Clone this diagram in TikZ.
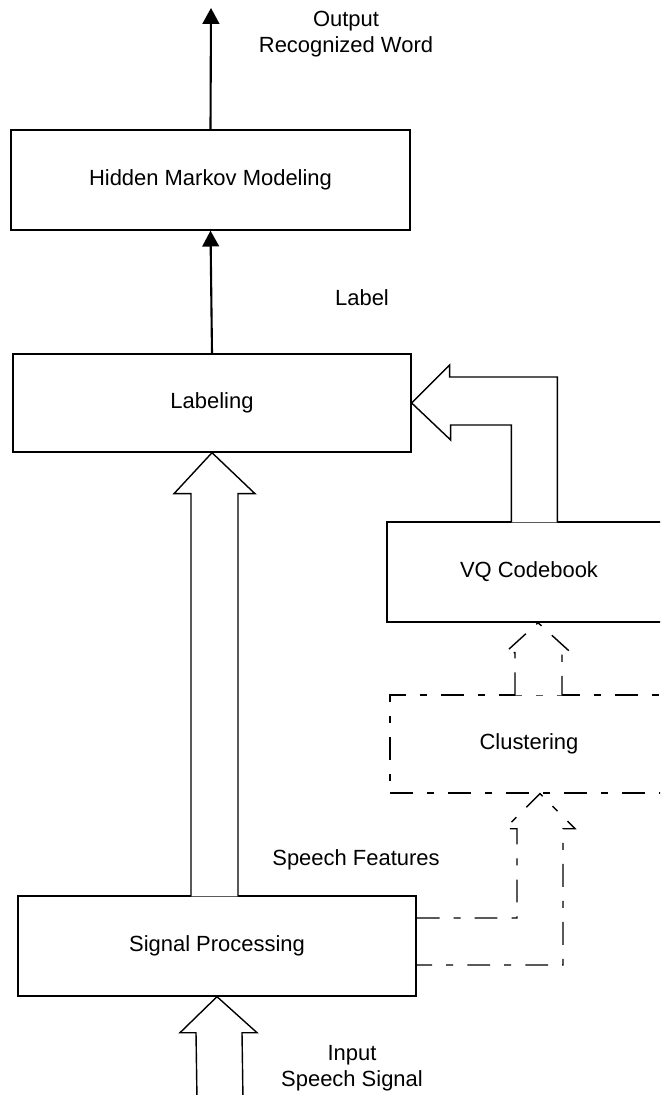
\documentclass[tikz,border=0pt]{standalone}
\usepackage{fontspec}
\setmainfont{Liberation Sans}
\usetikzlibrary{arrows.meta,calc}

\begin{document}
\begin{tikzpicture}[
        x=0.02cm, y=-0.02cm,
        every node/.style={font=\fontsize{12.5}{15}\selectfont},
        box/.style={draw, rectangle, line width=0.8pt, inner sep=0pt, minimum height=2cm},
        dashbox/.style={box, dash pattern=on 13pt off 8pt on 4pt off 8pt},
        hollow/.style={draw, fill=white, line width=0.8pt, line join=miter},
        dashhollow/.style={hollow, dash pattern=on 13pt off 8pt on 4pt off 8pt},
        flow/.style={line width=1.2pt, -{Triangle[length=9pt, width=9.5pt]}}
    ]
        \useasboundingbox (0,0) rectangle (660,1095);
        \clip (0,0) rectangle (660,1095);

        % blocks
        \node[box, minimum width=7.98cm] (hmm) at (210.5,180) {Hidden Markov Modeling};
        \node[box, minimum width=7.96cm, minimum height=1.96cm] (lab) at (212,403) {Labeling};
        \node[box, minimum width=5.68cm] (vq) at (529,572) {VQ Codebook};
        \node[dashbox, minimum width=5.56cm, minimum height=1.96cm] (clu) at (529,744) {Clustering};
        \node[box, minimum width=7.96cm] (sp) at (217,946) {Signal Processing};

        % texts
        \node[align=center] (outtxt) at (346,34) {Output\\Recognized Word};
        \node (labtxt) at (362,298) {Label};
        \node (sftxt) at (356,860) {Speech Features};
        \node[align=center] (intxt) at (352,1068) {Input\\Speech Signal};

        % free ends
        \coordinate (out) at (211,8);
        \coordinate (insig) at (218,1100);
        \coordinate (vqin) at ($(vq.south)+(9,0)$);
        \coordinate (cluin) at ($(clu.south)+(11,0)$);

        % solid arrows
        \draw[flow] (hmm.north) -- (out);
        \draw[flow] (lab.north) -- (hmm.south);

        % hollow arrows
        \draw[hollow] ($(lab.south |- sp.north)+(-21,1)$) -- ($(lab.south)+(-21,41)$) -- ++(-17,0)
            -- (lab.south) -- ++(43,41) -- ++(-17,0) -- ($(lab.south |- sp.north)+(26,1)$);
        \draw[hollow] ($(insig)+(-21,0)$) -- ($(sp.south)+(-21,36)$) -- ++(-16,0)
            -- (sp.south) -- ++(40,36) -- ++(-15,0) -- ($(insig)+(25,0)$);
        \draw[hollow] ($(vq.north west)+(125,1)$) |- ($(lab.east)+(39,22)$) -- ++(0,15)
            -- (lab.east) -- ++(38,-38) -- ++(0,12) -| ($(vq.north west)+(171,1)$);

        % dashed arrows
        \draw[dashhollow] ($(vqin |- clu.north)+(-23,1)$) -- ($(vqin)+(-23,30)$) -- ++(-10,0)
            -- (vqin) -- ++(33,30) -- ++(-9,0) -- ($(vqin |- clu.north)+(24,1)$);
        \draw[dashhollow, fill=none] ($(sp.east)+(0,-28)$) -| ($(cluin)+(-23,35)$) -- ++(-12,0)
            -- (cluin) -- ++(35,35) -- ++(-12,0) |- ($(sp.east)+(0,19)$);
    \end{tikzpicture}
\end{document}
